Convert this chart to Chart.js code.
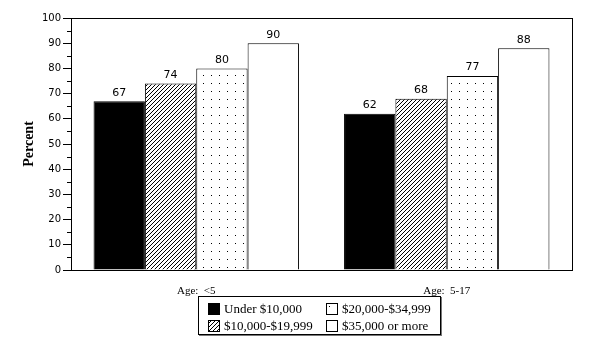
<!DOCTYPE html>
<html>
<head>
<meta charset="utf-8">
<script src="https://cdn.jsdelivr.net/npm/chart.js@4"></script>
<style>
  html, body { margin: 0; padding: 0; background: #fff; }
  #wrap { position: relative; width: 612px; height: 354px; }
  #legend {
    position: absolute; left: 198px; top: 296px; width: 243px; height: 39px;
    border: 1px solid #000; box-shadow: 1px 1px 0 #777; background: #fff;
    display: grid; grid-template-rows: 17px 17px; grid-auto-flow: column;
    grid-template-columns: 118px 124px; padding: 3px 0 0 9px; box-sizing: border-box;
    font: 13px "Liberation Serif", serif; color: #000;
  }
  #legend div { display: flex; align-items: center; white-space: nowrap; }
  #legend canvas { margin-right: 4px; }
</style>
</head>
<body>
<div id="wrap">
  <canvas id="chart" width="612" height="354"></canvas>
  <div id="legend"></div>
</div>
<script>
// data
const categories = ["Age:  <5", "Age:  5-17"];
const seriesNames = ["Under $10,000", "$10,000-$19,999", "$20,000-$34,999", "$35,000 or more"];
const under10k = [67, 62];
const from10to20k = [74, 68];
const from20to35k = [80, 77];
const over35k = [90, 88];
const yTicks = [0, 10, 20, 30, 40, 50, 60, 70, 80, 90, 100];

// fill patterns
function makeHatch() {
  const c = document.createElement("canvas");
  c.width = 4; c.height = 4;
  const g = c.getContext("2d");
  g.fillStyle = "#fff"; g.fillRect(0, 0, 4, 4);
  g.fillStyle = "#000";
  for (let i = 0; i < 4; i++) g.fillRect(i, 3 - i, 1, 1);
  return c;
}
function makeDots() {
  const c = document.createElement("canvas");
  c.width = 8; c.height = 8;
  const g = c.getContext("2d");
  g.fillStyle = "#fff"; g.fillRect(0, 0, 8, 8);
  g.fillStyle = "#000";
  g.fillRect(3, 3, 1, 1);
  return c;
}
function makeWhite() {
  const c = document.createElement("canvas");
  c.width = c.height = 1;
  const g = c.getContext("2d");
  g.fillStyle = "#fff"; g.fillRect(0, 0, 1, 1);
  return c;
}
const ctx = document.getElementById("chart").getContext("2d");
const fills = [
  "#000",
  ctx.createPattern(makeHatch(), "repeat"),
  ctx.createPattern(makeDots(), "repeat"),
  "#fff"
];

// legend
const legend = document.getElementById("legend");
const swatchTiles = [null, makeHatch, makeDots, makeWhite];
seriesNames.forEach((name, i) => {
  const item = document.createElement("div");
  const sw = document.createElement("canvas");
  sw.width = 12; sw.height = 12;
  const g = sw.getContext("2d");
  g.fillStyle = i === 0 ? "#000" : g.createPattern(swatchTiles[i](), "repeat");
  g.fillRect(0, 0, 12, 12);
  g.strokeStyle = "#000"; g.lineWidth = 1;
  g.strokeRect(0.5, 0.5, 11, 11);
  item.appendChild(sw);
  item.appendChild(document.createTextNode(name));
  legend.appendChild(item);
});

const frame = {
  id: "frame",
  afterDraw(chart) {
    const a = chart.chartArea, c = chart.ctx;
    c.save();
    c.strokeStyle = "#000"; c.lineWidth = 1;
    c.strokeRect(Math.round(a.left) + 0.5, Math.round(a.top) + 0.5, Math.round(a.right - a.left), Math.round(a.bottom - a.top));
    // minor ticks
    const y = chart.scales.y;
    for (let v = 5; v < 100; v += 10) {
      const py = Math.round(y.getPixelForValue(v)) + 0.5;
      c.beginPath(); c.moveTo(a.left - 4, py); c.lineTo(a.left, py); c.stroke();
    }
    c.restore();
  }
};

const valueLabels = {
  id: "valueLabels",
  afterDatasetsDraw(chart) {
    const c = chart.ctx;
    c.save();
    c.font = "11px 'DejaVu Sans'";
    c.fillStyle = "#000";
    c.textAlign = "center";
    c.textBaseline = "bottom";
    chart.data.datasets.forEach((ds, i) => {
      chart.getDatasetMeta(i).data.forEach((el, j) => {
        c.fillText(ds.data[j], el.x, el.y - 3);
      });
    });
    c.restore();
  }
};

const seriesData = [under10k, from10to20k, from20to35k, over35k];

new Chart(ctx, {
  type: "bar",
  data: {
    labels: categories,
    datasets: seriesNames.map((name, i) => ({
      label: name,
      data: seriesData[i],
      backgroundColor: fills[i],
      borderColor: "#000",
      borderWidth: 1,
      categoryPercentage: 0.82,
      barPercentage: 1
    }))
  },
  options: {
    responsive: false,
    animation: false,
    events: [],
    layout: { padding: { left: 0, right: 40, top: 18, bottom: 54 } },
    plugins: { legend: { display: false }, tooltip: { enabled: false } },
    scales: {
      x: {
        grid: { display: false, drawTicks: false },
        border: { display: false },
        ticks: { color: "#000", font: { family: "Liberation Serif", size: 11 }, padding: 15 },
        afterFit(s) { s.height = 30; }
      },
      y: {
        min: 0, max: 100,
        afterBuildTicks(s) { s.ticks = yTicks.map(v => ({ value: v })); },
        grid: { drawOnChartArea: false, drawTicks: true, tickLength: 8, color: "#000" },
        border: { display: false },
        ticks: { color: "#000", font: { family: "DejaVu Sans", size: 10 }, padding: 2 },
        title: {
          display: true, text: "Percent", color: "#000",
          font: { family: "Liberation Serif", size: 14, weight: "bold" },
          padding: { top: 21, bottom: 0 }
        },
        afterFit(s) { s.width = 71; }
      }
    }
  },
  plugins: [frame, valueLabels]
});
</script>
</body>
</html>
